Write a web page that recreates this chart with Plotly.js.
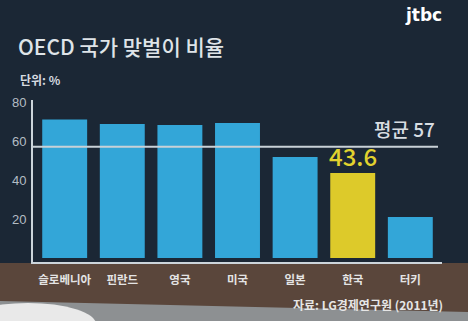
<!DOCTYPE html>
<html>
<head>
<meta charset="utf-8">
<script src="https://cdn.plot.ly/plotly-3.0.1.min.js"></script>
<style>
html,body{margin:0;padding:0;background:#1b2735;}
#chart{width:468px;height:321px;}
</style>
</head>
<body>
<div id="chart"></div>
<script>
// Data
const countries = ['슬로베니아', '핀란드', '영국', '미국', '일본', '한국', '터키'];
const rates = [71, 68.7, 68.2, 69.2, 51.8, 43.6, 21];
const highlight = '한국';
const average = 57;
const yTicks = [20, 40, 60, 80];
const titleText = 'OECD 국가 맞벌이 비율';
const unitText = '단위: %';
const sourceText = '자료: LG경제연구원 (2011년)';
const logoText = 'jtbc';

// Layout geometry helpers (pixel -> paper)
const L = 33, R = 442, T = 100, B = 262;
const X = p => (p - L) / (R - L);
const Y = p => (B - p) / (B - T);

const KR = '"Noto Sans CJK KR", "Noto Sans", sans-serif';
const blue = '#33a6d8', yellow = '#ddca2a';
const hiIdx = countries.indexOf(highlight);

const trace = {
  type: 'bar',
  x: countries,
  y: rates,
  marker: { color: countries.map(c => c === highlight ? yellow : blue), line: { width: 0 } },
  hoverinfo: 'skip'
};

const layout = {
  width: 468, height: 321,
  margin: { l: L, r: 468 - R, t: T, b: 321 - B, pad: 0 },
  paper_bgcolor: '#1b2735',
  plot_bgcolor: 'rgba(0,0,0,0)',
  showlegend: false,
  bargap: 0.22,
  title: {
    text: titleText,
    xref: 'container', yref: 'container',
    x: 18 / 468, xanchor: 'left',
    y: 1 - 48 / 321, yanchor: 'middle',
    font: { family: KR, size: 21, color: '#dfe4e8', weight: 500 }
  },
  xaxis: {
    type: 'category',
    range: [-0.55, countries.length - 0.45],
    showgrid: false, zeroline: false,
    showline: true, linecolor: '#cdd5db', linewidth: 2,
    ticks: '', ticklabelstandoff: 6,
    tickfont: { family: KR, size: 11.5, color: '#e4e4e4', weight: 'bold' },
    fixedrange: true
  },
  yaxis: {
    range: [-2.05, 81],
    tickvals: yTicks,
    showgrid: false, zeroline: false,
    showline: true, linecolor: '#cdd5db', linewidth: 2,
    ticks: '', ticklabelstandoff: 2,
    tickfont: { family: '"Liberation Sans Narrow", "Liberation Sans", sans-serif', size: 13, color: '#b3bcc4' },
    fixedrange: true
  },
  shapes: [
    // studio floor
    { type: 'rect', xref: 'paper', yref: 'paper', layer: 'below',
      x0: X(0), x1: X(468), y0: Y(321), y1: Y(298),
      fillcolor: '#8d9092', line: { width: 0 } },
    // wood band
    { type: 'path', xref: 'paper', yref: 'paper', layer: 'below',
      path: `M ${X(0)},${Y(263)} L ${X(468)},${Y(263)} L ${X(468)},${Y(312)} L ${X(0)},${Y(301)} Z`,
      fillcolor: '#5a463b', line: { width: 0 } },
    // white desk edge at bottom-left
    { type: 'circle', xref: 'paper', yref: 'paper', layer: 'below',
      x0: X(-40), x1: X(96), y0: Y(345), y1: Y(303),
      fillcolor: '#e9e9e9', line: { width: 0 } },
    // average line
    { type: 'line', xref: 'paper', yref: 'y', layer: 'above',
      x0: 0, x1: X(438), y0: average, y1: average,
      line: { color: '#c9d1d7', width: 2 } }
  ],
  annotations: [
    { text: unitText, xref: 'paper', yref: 'paper', x: X(18), y: Y(80),
      xanchor: 'left', yanchor: 'middle', showarrow: false,
      font: { family: KR, size: 12, color: '#d6dbe0', weight: 'bold' } },
    { text: '평균 ' + average, xref: 'paper', yref: 'y', x: X(437), y: average,
      xanchor: 'right', yanchor: 'bottom', yshift: 3, showarrow: false,
      font: { family: KR, size: 19, color: '#d8dde2', weight: 500 } },
    { text: String(rates[hiIdx]), xref: 'x', yref: 'y', x: highlight, y: rates[hiIdx],
      xanchor: 'center', yanchor: 'bottom', yshift: -2, showarrow: false,
      font: { family: KR, size: 24, color: '#e2d22e', weight: 500 } },
    { text: sourceText, xref: 'paper', yref: 'paper', x: X(445), y: Y(304),
      xanchor: 'right', yanchor: 'middle', showarrow: false,
      font: { family: KR, size: 12, color: '#e6e6e6', weight: 'bold' } },
    { text: logoText, xref: 'paper', yref: 'paper', x: X(423), y: Y(15),
      xanchor: 'center', yanchor: 'middle', showarrow: false,
      font: { family: '"DejaVu Sans", sans-serif', size: 17, color: '#ffffff', weight: 'bold' } }
  ]
};

Plotly.newPlot('chart', [trace], layout, { displayModeBar: false, staticPlot: true });
</script>
</body>
</html>
